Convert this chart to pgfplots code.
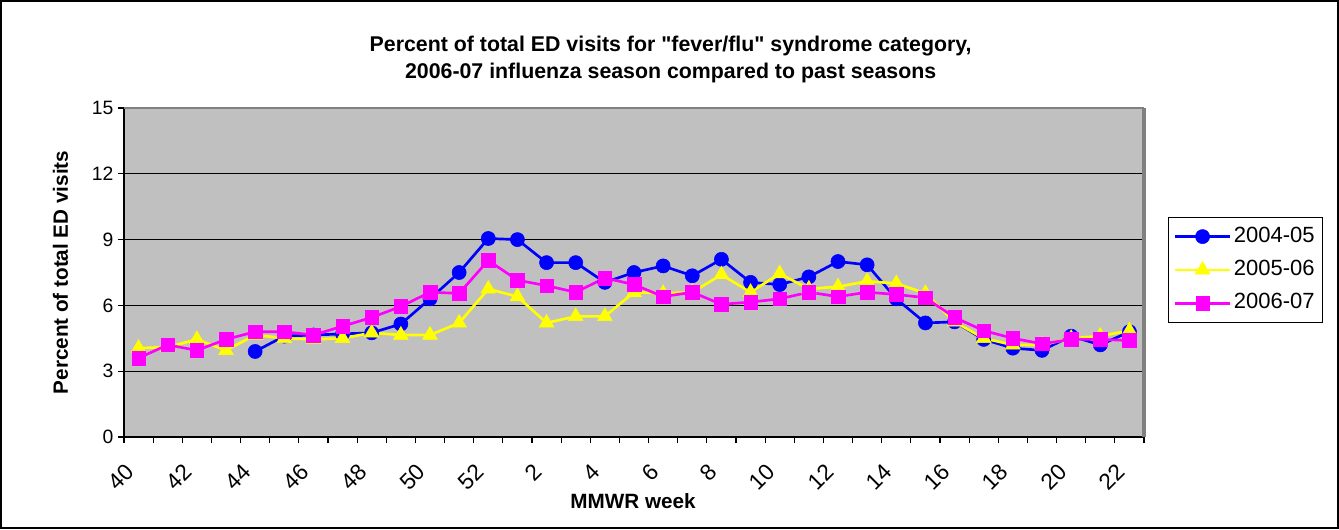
\documentclass[border=0pt]{standalone}
\usepackage{pgfplots}
\pgfplotsset{compat=1.18}
\usepackage{fontspec}
\setmainfont{Liberation Sans}[Ligatures=TeXOff]
\definecolor{plotgray}{RGB}{192,192,192}
\definecolor{bordergray}{RGB}{128,128,128}
\definecolor{sblue}{RGB}{0,0,255}
\definecolor{syellow}{RGB}{255,255,0}
\definecolor{smagenta}{RGB}{255,0,255}

\pgfplotstableread{
x y
4 3.9
5 4.6
6 4.65
7 4.7
8 4.75
9 5.15
10 6.3
11 7.5
12 9.05
13 9.0
14 7.95
15 7.95
16 7.05
17 7.5
18 7.8
19 7.35
20 8.1
21 7.05
22 6.95
23 7.3
24 8.0
25 7.85
26 6.3
27 5.2
28 5.25
29 4.45
30 4.05
31 3.95
32 4.6
33 4.2
34 4.8
}\seasonA

\pgfplotstableread{
x y
0 4.05
1 4.1
2 4.45
3 3.95
4 4.65
5 4.5
6 4.45
7 4.5
8 4.75
9 4.65
10 4.65
11 5.2
12 6.75
13 6.4
14 5.2
15 5.5
16 5.5
17 6.6
18 6.55
19 6.6
20 7.4
21 6.6
22 7.45
23 6.75
24 6.85
25 7.1
26 7.0
27 6.55
28 5.25
29 4.5
30 4.2
31 4.2
32 4.5
33 4.6
34 4.85
}\seasonB

\pgfplotstableread{
x y
0 3.6
1 4.2
2 3.95
3 4.45
4 4.8
5 4.8
6 4.65
7 5.05
8 5.45
9 5.95
10 6.6
11 6.55
12 8.05
13 7.15
14 6.9
15 6.6
16 7.25
17 6.95
18 6.4
19 6.6
20 6.05
21 6.15
22 6.3
23 6.6
24 6.4
25 6.6
26 6.5
27 6.35
28 5.45
29 4.85
30 4.5
31 4.25
32 4.45
33 4.45
34 4.4
}\seasonC

\begin{document}
\begin{tikzpicture}
\begin{axis}[
  at={(0,0)}, anchor=south west,
  scale only axis, width=765pt, height=246.75pt,
  xmin=-0.5, xmax=34.5, ymin=0, ymax=15,
  axis background/.style={fill=plotgray},
  axis x line=bottom, axis y line=left,
  axis line style={-, black, line width=1.2pt},
  ytick={0,3,6,9,12,15},
  ymajorgrids, grid style={black, line width=0.75pt},
  xtick={-0.5,0.5,...,34.5}, xticklabels={},
  tick align=outside, major tick length=4.5pt,
  tick style={black, line width=0.9pt},
  extra x ticks={0,2,4,6,8,10,12,14,16,18,20,22,24,26,28,30,32,34},
  extra x tick labels={40,42,44,46,48,50,52,2,4,6,8,10,12,14,16,18,20,22},
  extra x tick style={tick style={draw=none}, grid=none,
     xticklabel style={font=\fontsize{17}{20}\selectfont, xshift=-4pt, yshift=-16pt, rotate=45, anchor=east}},
  tick label style={font=\fontsize{14.5}{17}\selectfont},
  /pgf/number format/assume math mode=true,
  clip=false,
  legend style={at={(1.0235,0.6687)}, anchor=north west, draw=black, line width=0.9pt,
     font=\fontsize{16.5}{19}\selectfont, row sep=5.5pt, inner xsep=4pt, inner ysep=4.5pt,
     nodes={text height=12pt, text depth=3.5pt, inner sep=2pt}},
  legend cell align=left,
  legend image code/.code={\draw[mark repeat=2,mark phase=2,#1] plot coordinates {(0pt,0pt) (20.5pt,0pt) (41pt,0pt)};},
]
\addplot[sblue, line width=2pt, mark=*, mark size=5.3pt, mark options={line width=0.4pt, fill=sblue}] table[x=x,y=y] {\seasonA};
\addlegendentry{2004-05}
\addplot[syellow, line width=2pt, mark=triangle*, mark size=6.4pt, mark options={line width=0.4pt, fill=syellow}] table[x=x,y=y] {\seasonB};
\addlegendentry{2005-06}
\addplot[smagenta, line width=2pt, mark=square*, mark size=5.1pt, mark options={line width=0.4pt, fill=smagenta}] table[x=x,y=y] {\seasonC};
\addlegendentry{2006-07}
\draw[bordergray, line width=1.6pt] (rel axis cs:0,1) -- (rel axis cs:1,1);
\draw[bordergray, line width=2.4pt] (rel axis cs:1,0) -- (rel axis cs:1,1);
\end{axis}
\node[anchor=base, font=\bfseries\fontsize{16}{19}\selectfont] at (410pt,288.75pt) {Percent of total ED visits for "fever/flu" syndrome category,};
\node[anchor=base, font=\bfseries\fontsize{16}{19}\selectfont] at (410pt,268.5pt) {2006-07 influenza season compared to past seasons};
\node[anchor=base, rotate=90, font=\bfseries\fontsize{15.5}{18}\selectfont] at (-42pt,123.4pt) {Percent of total ED visits};
\node[anchor=base, font=\bfseries\fontsize{15.5}{18}\selectfont] at (381.75pt,-53.25pt) {MMWR week};
\draw[black, line width=1.5pt] (-92.25pt,-68.25pt) rectangle (910.5pt,327pt);
\pgfresetboundingbox
\useasboundingbox (-93pt,-69pt) rectangle (911.25pt,327.75pt);
\end{tikzpicture}
\end{document}
